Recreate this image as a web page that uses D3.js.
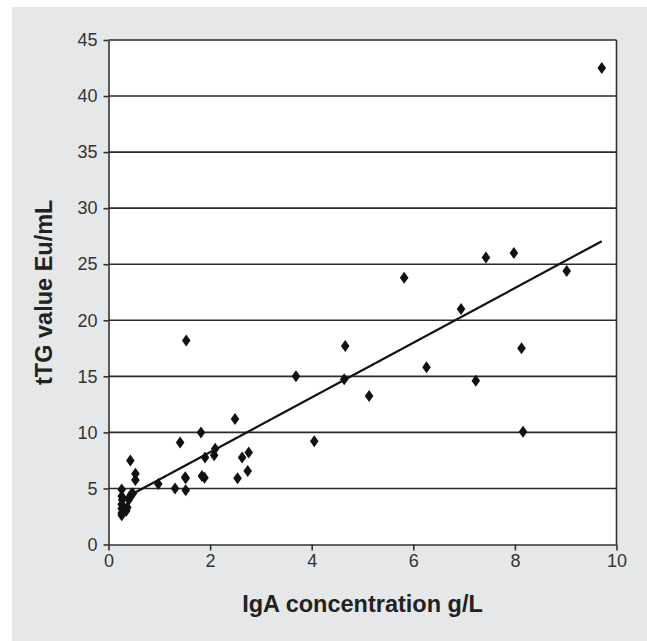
<!DOCTYPE html>
<html>
<head>
<meta charset="utf-8">
<script src="https://cdn.jsdelivr.net/npm/d3@7"></script>
<style>
  body { margin: 0; background: #fff; }
  .axis text { font-family: "Liberation Sans", Arial, sans-serif; font-size: 18px; fill: #333; }
  .axis path, .axis line { stroke: #333; stroke-width: 1.6; }
  .grid line { stroke: #2a2a2a; stroke-width: 1.6; }
  .title { font-family: "Liberation Sans Narrow", "Liberation Sans", Arial, sans-serif; font-weight: bold; font-size: 23.5px; fill: #222; }
</style>
</head>
<body>
<div class="chart"></div>
<script>
// IgA (g/L) against tTG (Eu/mL), one entry per patient
var igaValues = [0.26, 0.26, 0.26, 0.26, 0.26, 0.26, 0.27, 0.35, 0.37, 0.40, 0.42, 0.45, 0.48,
                 0.43, 0.53, 0.53, 0.98, 1.31, 1.41, 1.51, 1.52, 1.52, 1.53,
                 1.82, 1.84, 1.89, 1.90, 2.08, 2.10, 2.49, 2.54, 2.63, 2.74, 2.76,
                 3.69, 4.05, 4.64, 4.66, 5.13, 5.82, 6.26, 6.94, 7.23, 7.43, 7.98,
                 8.13, 8.16, 9.02, 9.71];
var ttgValues = [4.9, 4.3, 3.6, 3.2, 2.8, 2.6, 4.0, 3.0, 3.3, 4.0, 4.25, 4.5, 4.55,
                 7.5, 6.3, 5.75, 5.4, 5.0, 9.1, 6.0, 4.85, 5.9, 18.2,
                 10.0, 6.1, 5.95, 7.75, 7.95, 8.55, 11.2, 5.9, 7.75, 6.55, 8.2,
                 15.0, 9.2, 14.75, 17.7, 13.25, 23.8, 15.8, 21.0, 14.6, 25.6, 26.0,
                 17.5, 10.05, 24.4, 42.5];
var xTicks = [0, 2, 4, 6, 8, 10];
var yTicks = [0, 5, 10, 15, 20, 25, 30, 35, 40, 45];
var trendSlope = 2.44,
    trendIntercept = 3.36;
var xLabel = 'IgA concentration g/L',
    yLabel = 'tTG value Eu/mL';

function init() {
  var width = 647,
      height = 641,
      margin = { left: 108.5, top: 40, right: 30.5, bottom: 96.5 },
      area = {
        x1: margin.left,
        y1: margin.top,
        x2: width - margin.right,
        y2: height - margin.bottom
      };

  var points = igaValues.map(function(d, i) { return { x: d, y: ttgValues[i] }; });

  var x = d3.scaleLinear().domain([0, 10]).range([area.x1, area.x2]),
      y = d3.scaleLinear().domain([0, 45]).range([area.y2, area.y1]);

  var svg = d3.select('.chart')
    .append('svg')
      .attr('width', width)
      .attr('height', height);

  // grey panel behind the whole figure
  svg.append('rect')
      .attr('x', 12)
      .attr('y', 7)
      .attr('width', width - 12)
      .attr('height', height - 7)
      .attr('fill', '#e6e7e8');

  svg.append('rect')
      .attr('x', area.x1)
      .attr('y', area.y1)
      .attr('width', area.x2 - area.x1)
      .attr('height', area.y2 - area.y1)
      .attr('fill', '#fff');

  svg.append('g')
      .attr('class', 'grid')
    .selectAll('line')
    .data(yTicks.filter(function(d) { return d > 0; }))
    .enter()
      .append('line')
        .attr('x1', area.x1)
        .attr('x2', area.x2)
        .attr('y1', function(d) { return y(d); })
        .attr('y2', function(d) { return y(d); });

  svg.append('line')
      .attr('x1', area.x2)
      .attr('x2', area.x2)
      .attr('y1', area.y1)
      .attr('y2', area.y2)
      .attr('stroke', '#333')
      .attr('stroke-width', 1.6);

  svg.append('g')
      .attr('class', 'axis')
      .attr('transform', 'translate(0,' + area.y2 + ')')
      .call(d3.axisBottom(x).tickValues(xTicks).tickSizeInner(6).tickSizeOuter(0).tickPadding(4));

  svg.append('g')
      .attr('class', 'axis')
      .attr('transform', 'translate(' + area.x1 + ',0)')
      .call(d3.axisLeft(y).tickValues(yTicks).tickSizeInner(5).tickSizeOuter(0).tickPadding(6));

  var xExtent = d3.extent(igaValues);
  svg.append('line')
      .attr('x1', x(xExtent[0]))
      .attr('y1', y(trendIntercept + trendSlope * xExtent[0]))
      .attr('x2', x(xExtent[1]))
      .attr('y2', y(trendIntercept + trendSlope * xExtent[1]))
      .attr('stroke', '#111')
      .attr('stroke-width', 2.2);

  svg.append('g')
    .selectAll('path')
    .data(points)
    .enter()
      .append('path')
        .attr('d', 'M0,-6L4.3,0L0,6L-4.3,0Z')
        .attr('fill', '#111')
        .attr('transform', function(d) { return 'translate(' + x(d.x) + ',' + y(d.y) + ')'; });

  svg.append('text')
      .attr('class', 'title')
      .attr('x', (area.x1 + area.x2) / 2)
      .attr('y', 612)
      .attr('text-anchor', 'middle')
      .text(xLabel);

  svg.append('text')
      .attr('class', 'title')
      .attr('transform', 'translate(52,' + (area.y1 + area.y2) / 2 + ') rotate(-90)')
      .attr('text-anchor', 'middle')
      .text(yLabel);
}

d3.select(window).on('load', init);
</script>
</body>
</html>
